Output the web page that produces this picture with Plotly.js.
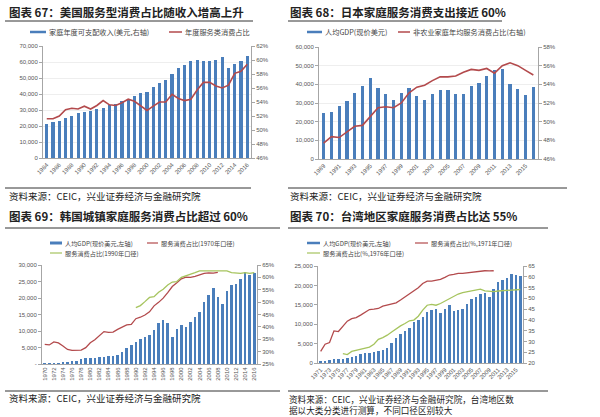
<!DOCTYPE html>
<html><head><meta charset="utf-8">
<script src="https://cdn.plot.ly/plotly-3.0.1.min.js"></script>
<style>html,body{margin:0;padding:0;background:#fff}#c{width:600px;height:417px}</style>
</head><body><div id="c"></div>
<script>
// ---------- DATA ----------
// Chart 67: USA
const usYears = [1984,1985,1986,1987,1988,1989,1990,1991,1992,1993,1994,1995,1996,1997,1998,1999,2000,2001,2002,2003,2004,2005,2006,2007,2008,2009,2010,2011,2012,2013,2014,2015,2016];
const usIncome = [21000,22500,23200,24800,26000,28000,28700,29500,30500,31500,33000,34000,35500,37000,38500,40500,41500,44500,47000,48500,52500,56000,58000,60500,61500,60500,60500,61500,63000,56500,58500,60500,63500];
const usShare = [51.6,51.6,52.0,52.9,53.1,53.0,53.4,53.0,53.5,54.2,53.6,53.5,53.9,54.4,54.1,53.5,52.8,53.4,54.0,54.0,55.1,54.5,54.2,54.4,55.7,56.8,56.8,56.3,56.0,56.4,58.1,58.4,59.4];
const usXTicks = [1984,1986,1988,1990,1992,1994,1996,1998,2000,2002,2004,2006,2008,2010,2012,2014,2016];
const usLeftTicks = [0,10000,20000,30000,40000,50000,60000,70000];
const usRightTicks = [46,48,50,52,54,56,58,60,62];

// Chart 68: Japan
const jpYears = [1989,1990,1991,1992,1993,1994,1995,1996,1997,1998,1999,2000,2001,2002,2003,2004,2005,2006,2007,2008,2009,2010,2011,2012,2013,2014,2015,2016];
const jpGdp = [24700,25200,28600,31200,35500,39000,43200,38100,34600,31800,35600,38100,33700,31800,34600,37200,36700,34900,34900,39000,40600,44300,47600,48200,40200,37600,34400,38500];
const jpShare = [47.7,48.4,48.3,48.9,49.5,49.6,50.5,51.5,51.6,51.5,52.0,53.1,53.7,53.9,54.4,54.8,54.8,54.9,55.3,55.6,55.5,55.7,55.2,56.0,56.3,56.0,55.5,55.0];
const jpXTicks = [1989,1991,1993,1995,1997,1999,2001,2003,2005,2007,2009,2011,2013,2015];
const jpLeftTicks = [0,10000,20000,30000,40000,50000,60000];
const jpRightTicks = [46,48,50,52,54,56,58];

// Chart 69: Korea
const krYears = [1970,1971,1972,1973,1974,1975,1976,1977,1978,1979,1980,1981,1982,1983,1984,1985,1986,1987,1988,1989,1990,1991,1992,1993,1994,1995,1996,1997,1998,1999,2000,2001,2002,2003,2004,2005,2006,2007,2008,2009,2010,2011,2012,2013,2014,2015,2016];
const krGdp = [279,300,323,406,563,616,830,1051,1405,1784,1715,1883,1993,2199,2413,2482,2835,3555,4749,5817,6610,7637,8127,8885,10385,12565,13403,12398,8282,10672,11948,11253,12789,14209,15908,18640,20889,23061,20431,18292,22087,24080,24359,25890,27811,27105,27608];
const krYears1970 = [1970,1971,1972,1973,1974,1975,1976,1977,1978,1979,1980,1981,1982,1983,1984,1985,1986,1987,1988,1989,1990,1991,1992,1993,1994,1995,1996,1997,1998,1999,2000,2001,2002,2003,2004,2005,2006,2007,2008];
const krShare1970 = [32.9,32.7,33.9,33.5,32.3,30.9,30.5,30.7,30.6,31.6,33.6,34.8,36.6,38.1,37.8,37.9,39.0,39.8,40.8,41.0,43.3,43.9,44.8,46.1,48.5,49.9,51.6,53.8,56.3,57.8,59.4,60.1,60.0,60.4,61.0,61.6,61.8,61.7,62.0];
const krYears1990 = [1990,1991,1992,1993,1994,1995,1996,1997,1998,1999,2000,2001,2002,2003,2004,2005,2006,2007,2008,2009,2010,2011,2012,2013,2014,2015,2016];
const krShare1990 = [47.8,48.6,50.2,51.9,52.2,54.0,55.2,56.9,58.1,58.3,60.0,60.6,61.0,61.9,62.6,62.6,62.3,62.3,62.3,62.6,62.6,61.9,61.6,61.6,61.9,61.6,61.9];
const krXTicks = [1970,1972,1974,1976,1978,1980,1982,1984,1986,1988,1990,1992,1994,1996,1998,2000,2002,2004,2006,2008,2010,2012,2014,2016];
const krLeftTicks = [0,5000,10000,15000,20000,25000,30000];
const krLeftText = ['-','5,000','10,000','15,000','20,000','25,000','30,000'];
const krRightTicks = [25,30,35,40,45,50,55,60,65];

// Chart 70: Taiwan
const twYears = [1971,1972,1973,1974,1975,1976,1977,1978,1979,1980,1981,1982,1983,1984,1985,1986,1987,1988,1989,1990,1991,1992,1993,1994,1995,1996,1997,1998,1999,2000,2001,2002,2003,2004,2005,2006,2007,2008,2009,2010,2011,2012,2013,2014,2015,2016];
const twGdp = [443,522,695,920,964,1132,1301,1577,1920,2344,2669,2653,2823,3167,3290,3993,5275,6333,7577,8124,9016,10625,11079,11983,13129,13732,14020,12840,13804,14877,13357,13686,14041,15317,16456,16934,17757,18081,16933,19197,20866,21295,21973,22874,22780,22540];
const twYears1971 = [1971,1972,1973,1974,1975,1976,1977,1978,1979,1980,1981,1982,1983,1984,1985,1986,1987,1988,1989,1990,1991,1992,1993,1994,1995,1996,1997,1998,1999,2000,2001,2002,2003,2004,2005,2006,2007,2008,2009,2010];
const twShare1971 = [25.4,28.7,29.5,34.9,34.6,37.1,39.4,40.6,41.1,42.2,43.7,44.8,45.0,45.3,46.4,46.8,47.2,47.9,49.2,50.7,52.3,53.8,54.9,56.9,58.0,58.0,58.5,58.8,59.7,60.8,61.1,61.6,61.6,61.9,62.1,62.4,62.7,62.8,62.7,62.8];
const twYears1976 = [1976,1977,1978,1979,1980,1981,1982,1983,1984,1985,1986,1987,1988,1989,1990,1991,1992,1993,1994,1995,1996,1997,1998,1999,2000,2001,2002,2003,2004,2005,2006,2007,2008,2009,2010,2011,2012,2013,2014,2015,2016];
const twShare1976 = [24.3,23.9,25.4,25.9,26.2,26.7,27.4,28.7,31.0,31.8,32.9,34.4,36.0,37.2,38.3,39.6,39.9,41.7,44.5,46.8,47.2,46.8,47.6,48.7,49.9,51.0,52.0,52.7,53.1,53.8,54.1,54.3,53.5,53.4,53.1,53.4,53.5,53.5,53.8,53.8,54.1];
const twXTicks = [1971,1973,1975,1977,1979,1981,1983,1985,1987,1989,1991,1993,1995,1997,1999,2001,2003,2005,2007,2009,2011,2013,2015];
const twLeftTicks = [0,5000,10000,15000,20000,25000];
const twRightTicks = [20,25,30,35,40,45,50,55,60,65];

// Texts
const titles = ['图表 67：美国服务型消费占比随收入增高上升','图表 68：日本家庭服务消费支出接近 60%','图表 69：韩国城镇家庭服务消费占比超过 60%','图表 70：台湾地区家庭服务消费占比达 55%'];
const sourceText = '资料来源：CEIC，兴业证券经济与金融研究院';
const sourceText70 = ['资料来源：CEIC，兴业证券经济与金融研究院，台湾地区数','据以大类分类进行测算，不同口径区别较大'];

// ---------- STYLE / LAYOUT ----------
const W=600,H=417;
const px=v=>v/W, py=v=>1-v/H;
const BLUE='#4a7ebb', RED='#b34a4c', GREEN='#a6c45e', AX='#a6a6a6', GRID='#eeeeee';
const CJK='"Noto Sans CJK SC", "Noto Sans", sans-serif';
const tickFont={family:'"Liberation Sans", Arial, sans-serif', size:6, color:'#555'};
const fmt=v=>v.toLocaleString('en-US');
const pct=v=>v+'%';

function xAx(l,r,yAnchor,range,ticks,angle){
  return {domain:[px(l),px(r)],anchor:yAnchor,range:range,tickmode:'array',tickvals:ticks,ticktext:ticks.map(String),
    tickangle:angle,showline:true,linecolor:AX,linewidth:1,ticks:'',tickfont:tickFont,showgrid:false,zeroline:false,fixedrange:true};
}
function yLeft(t,b,xAnchor,range,ticks,text,grid){
  return {domain:[py(b),py(t)],anchor:xAnchor,range:range,tickmode:'array',tickvals:ticks,ticktext:text,
    showline:true,linecolor:AX,linewidth:1,ticks:'outside',ticklen:3,tickcolor:AX,tickfont:tickFont,
    showgrid:grid,gridcolor:GRID,zeroline:false,fixedrange:true};
}
function yRight(over,xAnchor,range,ticks,text){
  return {overlaying:over,side:'right',anchor:xAnchor,range:range,tickmode:'array',tickvals:ticks,ticktext:text,
    showline:true,linecolor:AX,linewidth:1,ticks:'outside',ticklen:3,tickcolor:AX,tickfont:tickFont,
    showgrid:false,zeroline:false,fixedrange:true};
}

const traces=[
  {type:'bar',x:usYears,y:usIncome,xaxis:'x',yaxis:'y',marker:{color:BLUE},width:0.5},
  {type:'scatter',mode:'lines',x:usYears,y:usShare,xaxis:'x',yaxis:'y2',line:{color:RED,width:1.6}},
  {type:'bar',x:jpYears,y:jpGdp,xaxis:'x2',yaxis:'y3',marker:{color:BLUE},width:0.42},
  {type:'scatter',mode:'lines',x:jpYears,y:jpShare,xaxis:'x2',yaxis:'y4',line:{color:RED,width:1.6}},
  {type:'bar',x:krYears,y:krGdp,xaxis:'x3',yaxis:'y5',marker:{color:BLUE},width:0.55},
  {type:'scatter',mode:'lines',x:krYears1970,y:krShare1970,xaxis:'x3',yaxis:'y6',line:{color:RED,width:1.3}},
  {type:'scatter',mode:'lines',x:krYears1990,y:krShare1990,xaxis:'x3',yaxis:'y6',line:{color:GREEN,width:1.3}},
  {type:'bar',x:twYears,y:twGdp,xaxis:'x4',yaxis:'y7',marker:{color:BLUE},width:0.55},
  {type:'scatter',mode:'lines',x:twYears1971,y:twShare1971,xaxis:'x4',yaxis:'y8',line:{color:RED,width:1.3}},
  {type:'scatter',mode:'lines',x:twYears1976,y:twShare1976,xaxis:'x4',yaxis:'y8',line:{color:GREEN,width:1.3}}
];

const layout={
  width:W,height:H,margin:{l:0,r:0,t:0,b:0},paper_bgcolor:'#fff',plot_bgcolor:'#fff',showlegend:false,bargap:0,
  xaxis: xAx(43,251,'y',[1983.4,2016.6],usXTicks,-45),
  yaxis: yLeft(46,158,'x',[0,70000],usLeftTicks,usLeftTicks.map(fmt),true),
  yaxis2: yRight('y','x',[46,62],usRightTicks,usRightTicks.map(pct)),
  xaxis2: xAx(319,538,'y3',[1988.4,2016.6],jpXTicks,-45),
  yaxis3: yLeft(47,159,'x2',[0,60000],jpLeftTicks,jpLeftTicks.map(fmt),true),
  yaxis4: yRight('y3','x2',[46,58],jpRightTicks,jpRightTicks.map(pct)),
  xaxis3: xAx(42,257,'y5',[1969.4,2016.6],krXTicks,-90),
  yaxis5: yLeft(265,364,'x3',[0,30000],krLeftTicks,krLeftText,false),
  yaxis6: yRight('y5','x3',[25,65],krRightTicks,krRightTicks.map(pct)),
  xaxis4: xAx(318,523,'y7',[1970.4,2016.6],twXTicks,-45),
  yaxis7: yLeft(266,363,'x4',[0,25000],twLeftTicks,twLeftTicks.map(fmt),false),
  yaxis8: yRight('y7','x4',[20,65],twRightTicks,twRightTicks.map(String)),
  annotations:[],shapes:[]
};

function text(x,y,t,size,opts){
  layout.annotations.push(Object.assign({xref:'paper',yref:'paper',x:px(x),y:py(y),text:t,showarrow:false,
    xanchor:'left',yanchor:'middle',font:{family:CJK,size:size,color:'#222'}},opts||{}));
}
function hline(x0,x1,y,color,w){
  layout.shapes.push({type:'line',xref:'paper',yref:'paper',x0:px(x0),x1:px(x1),y0:py(y),y1:py(y),line:{color:color,width:w}});
}
function rect(x0,x1,y0,y1,color){
  layout.shapes.push({type:'rect',xref:'paper',yref:'paper',x0:px(x0),x1:px(x1),y0:py(y0),y1:py(y1),fillcolor:color,line:{width:0}});
}

// titles
text(7,12,'<b>'+titles[0]+'</b>',11.5);
text(288,12,'<b>'+titles[1]+'</b>',11.5);
text(7,216,'<b>'+titles[2]+'</b>',11.5);
text(288,216,'<b>'+titles[3]+'</b>',11.5);
hline(5,253,21,'#333',1); hline(288,502,21,'#333',1);
hline(5,280,228,'#333',1); hline(288,548,228,'#333',1);

// sources
hline(5,251,188,'#333',1); hline(288,567,188,'#333',1);
hline(5,280,391,'#333',1); hline(288,548,391,'#333',1);
text(7,196,sourceText,9.5); text(288,196,sourceText,9.5);
text(7,398,sourceText,9.5);
text(288,391.5,sourceText70[0],8.6,{yanchor:'top',borderpad:0});
text(288,417,sourceText70[1],8.6,{yanchor:'bottom',borderpad:0});

// legends
const LF='#444';
hline(30,46,32,BLUE,2.5); text(47,32,'家庭年度可支配收入(美元,右轴)',7.2,{font:{family:CJK,size:7.2,color:LF}});
hline(169,182,32,RED,1.5); text(183,32,'年度服务类消费占比',7.2,{font:{family:CJK,size:7.2,color:LF}});
hline(307,322,32,BLUE,2.5); text(323,32,'人均GDP(现价美元)',7.2,{font:{family:CJK,size:7.2,color:LF}});
hline(398,410,32,RED,1.5); text(411,32,'非农业家庭年均服务消费占比(右轴)',7.2,{font:{family:CJK,size:7.2,color:LF}});

rect(50,62,241.5,244.5,BLUE); text(63,243,'人均GDP(现价美元,左轴)',6.2,{font:{family:CJK,size:6.2,color:LF}});
hline(147,158,243,RED,1.2); text(159,243,'服务消费占比(1970年口径)',6.2,{font:{family:CJK,size:6.2,color:LF}});
hline(50,62,253,GREEN,1.2); text(63,253,'服务消费占比(1990年口径)',6.2,{font:{family:CJK,size:6.2,color:LF}});

hline(307,320,243,BLUE,2.5); text(321,243,'人均GDP(现价美元,左轴)',6.2,{font:{family:CJK,size:6.2,color:LF}});
hline(415,428,243,RED,1.2); text(429,243,'服务消费占比(%,1971年口径)',6.2,{font:{family:CJK,size:6.2,color:LF}});
hline(307,320,253,GREEN,1.2); text(321,253,'服务消费占比(%,1976年口径)',6.2,{font:{family:CJK,size:6.2,color:LF}});

Plotly.newPlot('c',traces,layout,{staticPlot:true,displayModeBar:false});
</script>
</body></html>
